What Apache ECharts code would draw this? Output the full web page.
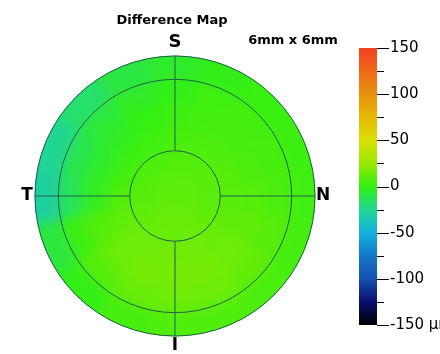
<!DOCTYPE html>
<html>
<head>
<meta charset="utf-8">
<script src="https://cdn.jsdelivr.net/npm/echarts@6/dist/echarts.min.js"></script>
<style>
  html, body { margin: 0; padding: 0; background: #ffffff; }
  #wrap { position: relative; width: 440px; height: 354px; overflow: hidden; }
  #heat { position: absolute; left: 0; top: 0; width: 440px; height: 354px;
          filter: blur(6px); clip-path: circle(140.5px at 175px 196px); }
  #main { position: absolute; left: 0; top: 0; width: 440px; height: 354px; }
</style>
</head>
<body>
<div id="wrap">
  <div id="heat"></div>
  <div id="main"></div>
</div>
<script>
// Thickness difference (µm) on a polar grid: ring edges in mm, sectors clockwise from superior.
const ringEdges = [0, 0.5, 1.0, 1.5, 2.0, 2.5, 3.3];
const sectorWidth = 22.5; // 16 sectors, sector 0 centred on S, 4 on N, 8 on I, 12 on T
const ring0 = [10, 10, 10, 10, 11, 11, 12, 12, 12, 12, 12, 11, 10, 10, 10, 10];
const ring1 = [8, 8, 9, 9, 10, 11, 12, 13, 13, 13, 12, 11, 9, 8, 7, 7];
const ring2 = [5, 6, 7, 8, 9, 11, 13, 15, 15, 15, 14, 11, 7, 3, 2, 3];
const ring3 = [2, 4, 5, 6, 8, 11, 14, 16, 16, 16, 14, 8, -3, -5, -4, 0];
const ring4 = [-1, 3, 4, 5, 6, 9, 12, 14, 14, 13, 9, 2, -14, -12, -8, -4];
const ring5 = [-5, -1, 1, 2, 3, 4, 6, 7, 7, 5, -1, -9, -30, -26, -18, -10];
const diffRings = [ring0, ring1, ring2, ring3, ring4, ring5];

// Overlay grid: circle radii (mm) and quadrant spokes (deg)
const gridCircles = [0.97, 2.5, 3.0];
const gridSpokes = [0, 90, 180, 270];
const spokeInner = 0.97, spokeOuter = 3.0;

// Colour scale (bottom to top, evenly spaced from -150 to 150)
const scaleMin = -150, scaleMax = 150, scaleStep = 50;
const scaleColors = ['#000000', '#0a1070', '#1450b0', '#1478c8', '#14b0e0', '#20d890',
                     '#34f012', '#98e800', '#d8e000', '#e8b800', '#e89010', '#f06a18', '#f04020'];
const majorTicks = [150, 100, 50, 0, -50, -100, -150];
const minorTicks = [125, 75, 25, -25, -75, -125];

const polarCfg = { center: [175, 196], radius: 154 };
const angleCfg = { type: 'value', min: 0, max: 360, startAngle: 90, clockwise: true,
  axisLine: { show: false }, axisTick: { show: false }, axisLabel: { show: false }, splitLine: { show: false } };
const radiusCfg = { type: 'value', min: 0, max: 3.3,
  axisLine: { show: false }, axisTick: { show: false }, axisLabel: { show: false }, splitLine: { show: false } };

function dist(a, b) { return Math.hypot(a[0] - b[0], a[1] - b[1]); }

// ---- heat layer ----
const heatData = [];
diffRings.forEach(function (vals, ri) {
  vals.forEach(function (v, si) {
    const c = si * sectorWidth;
    heatData.push([ringEdges[ri], ringEdges[ri + 1], c - sectorWidth / 2, c + sectorWidth / 2, v]);
  });
});

const heat = echarts.init(document.getElementById('heat'), null, { renderer: 'canvas' });
heat.setOption({
  animation: false,
  polar: polarCfg,
  angleAxis: angleCfg,
  radiusAxis: radiusCfg,
  visualMap: { show: false, type: 'continuous', min: scaleMin, max: scaleMax, dimension: 4,
               seriesIndex: 0, inRange: { color: scaleColors } },
  series: [{
    type: 'custom',
    coordinateSystem: 'polar',
    encode: { radius: [0, 1], angle: [2, 3] },
    data: heatData,
    renderItem: function (params, api) {
      const ctr = api.coord([0, 0]);
      const pIn = api.coord([api.value(0), api.value(2)]);
      const pA = api.coord([api.value(1), api.value(2)]);
      const pB = api.coord([api.value(1), api.value(3)]);
      let a0 = Math.atan2(pA[1] - ctr[1], pA[0] - ctr[0]);
      let a1 = Math.atan2(pB[1] - ctr[1], pB[0] - ctr[0]);
      if (a1 < a0) a1 += Math.PI * 2;
      const col = api.visual('color');
      return {
        type: 'sector',
        shape: { cx: ctr[0], cy: ctr[1], r0: dist(ctr, pIn), r: dist(ctr, pA),
                 startAngle: a0, endAngle: a1, clockwise: true },
        style: { fill: col, stroke: col, lineWidth: 1 }
      };
    }
  }]
});

// ---- overlay: grid lines, labels, colour bar ----
const lineColor = '#22604e';
const fontFam = '"DejaVu Sans", Verdana, sans-serif';
const barStops = scaleColors.map(function (c, i) {
  return { offset: 1 - i / (scaleColors.length - 1), color: c };
}).reverse();

function tickItem(len) {
  return function (params, api) {
    const p = api.coord([1, api.value(1)]);
    const y = Math.round(p[1]) + 0.5;
    return { type: 'line', shape: { x1: p[0], y1: y, x2: p[0] + len, y2: y },
             style: { stroke: '#000', lineWidth: 1 } };
  };
}

const main = echarts.init(document.getElementById('main'), null, { renderer: 'canvas' });
main.setOption({
  animation: false,
  polar: polarCfg,
  angleAxis: angleCfg,
  radiusAxis: radiusCfg,
  grid: { left: 359, top: 48, width: 18, height: 277, outerBoundsMode: 'none' },
  xAxis: { type: 'value', min: 0, max: 1, show: false },
  yAxis: {
    type: 'value', min: scaleMin, max: scaleMax, interval: scaleStep, position: 'right',
    axisLine: { show: false },
    axisTick: { show: false },
    splitLine: { show: false },
    axisLabel: { margin: 13, color: '#000', fontSize: 15, fontFamily: fontFam,
      formatter: function (v) { return v === scaleMin ? v + ' µm' : String(v); } }
  },
  series: [
    {
      // colour bar
      type: 'custom', coordinateSystem: 'cartesian2d', silent: true,
      data: [[0, scaleMin, 1, scaleMax]],
      renderItem: function (params, api) {
        const p0 = api.coord([api.value(0), api.value(3)]);
        const p1 = api.coord([api.value(2), api.value(1)]);
        return { type: 'rect', shape: { x: p0[0], y: p0[1], width: p1[0] - p0[0], height: p1[1] - p0[1] },
                 style: { fill: new echarts.graphic.LinearGradient(0, 0, 0, 1, barStops) } };
      }
    },
    {
      // major scale ticks
      type: 'custom', coordinateSystem: 'cartesian2d', silent: true, clip: false,
      data: majorTicks.map(function (v) { return [1, v]; }),
      renderItem: tickItem(12)
    },
    {
      // minor scale ticks
      type: 'custom', coordinateSystem: 'cartesian2d', silent: true, clip: false,
      data: minorTicks.map(function (v) { return [1, v]; }),
      renderItem: tickItem(7)
    },
    {
      type: 'custom', coordinateSystem: 'polar', silent: true,
      data: gridCircles.map(function (r) { return [r, 0]; }),
      renderItem: function (params, api) {
        const ctr = api.coord([0, 0]);
        const p = api.coord([api.value(0), 0]);
        return { type: 'circle', shape: { cx: ctr[0], cy: ctr[1], r: dist(ctr, p) },
                 style: { fill: 'none', stroke: lineColor, lineWidth: 1 } };
      }
    },
    {
      type: 'custom', coordinateSystem: 'polar', silent: true,
      data: gridSpokes.map(function (a) { return [spokeInner, a, spokeOuter]; }),
      renderItem: function (params, api) {
        const p0 = api.coord([api.value(0), api.value(1)]);
        const p1 = api.coord([api.value(2), api.value(1)]);
        return { type: 'line', shape: { x1: p0[0], y1: p0[1], x2: p1[0], y2: p1[1] },
                 style: { stroke: lineColor, lineWidth: 1 } };
      }
    }
  ],
  graphic: [
    { type: 'text', x: 172, y: 21, style: { text: 'Difference Map', fontSize: 13, fontWeight: 'bold', fontFamily: fontFam, fill: '#000', align: 'center', verticalAlign: 'middle' } },
    { type: 'text', x: 293, y: 41, style: { text: '6mm x 6mm', fontSize: 13, fontWeight: 'bold', fontFamily: fontFam, fill: '#000', align: 'center', verticalAlign: 'middle' } },
    { type: 'text', x: 175, y: 42, style: { text: 'S', fontSize: 18, fontWeight: 'bold', fontFamily: fontFam, fill: '#000', align: 'center', verticalAlign: 'middle' } },
    { type: 'text', x: 323, y: 196, style: { text: 'N', fontSize: 17, fontWeight: 'bold', fontFamily: fontFam, fill: '#000', align: 'center', verticalAlign: 'middle' } },
    { type: 'text', x: 27, y: 196, style: { text: 'T', fontSize: 17, fontWeight: 'bold', fontFamily: fontFam, fill: '#000', align: 'center', verticalAlign: 'middle' } },
    { type: 'text', x: 175, y: 346, style: { text: 'I', fontSize: 17, fontWeight: 'bold', fontFamily: fontFam, fill: '#000', align: 'center', verticalAlign: 'middle' } }
  ]
});
</script>
</body>
</html>
